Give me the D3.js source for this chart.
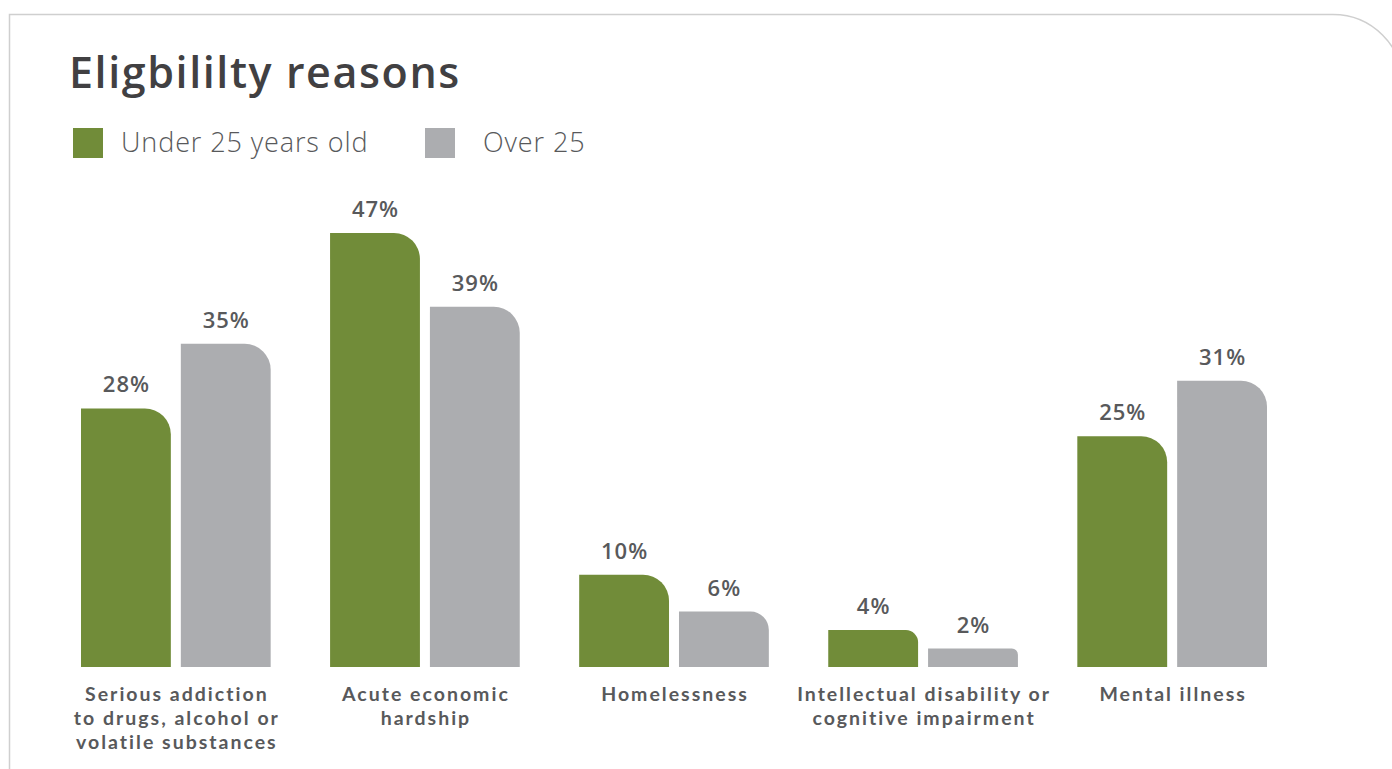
<!DOCTYPE html>
<html>
<head>
<meta charset="utf-8">
<script src="https://cdn.jsdelivr.net/npm/d3@7"></script>
<style>
  html, body { margin: 0; padding: 0; background: #ffffff; }
  svg { display: block; }
</style>
</head>
<body>
<script>
// ---- data ----
const categories = [
  ["Serious addiction", "to drugs, alcohol or", "volatile substances"],
  ["Acute economic", "hardship"],
  ["Homelessness"],
  ["Intellectual disability or", "cognitive impairment"],
  ["Mental illness"]
];
const seriesNames = ["Under 25 years old", "Over 25"];
const under25 = [28, 47, 10, 4, 25];
const over25 = [35, 39, 6, 2, 31];
const title = "Eligbililty reasons";

// ---- layout ----
const W = 1392, H = 769;
const colors = ["#718c39", "#acadb0"];
const textColor = "#58595b";
const font = "'Open Sans', sans-serif";
const labelFont = "Lato, 'Open Sans', sans-serif";

const svg = d3.select("body").append("svg")
  .attr("width", W).attr("height", H);

// frame
const r = 70;
svg.append("path")
  .attr("d", `M9.5,${H + 2} V14.5 H${1333} A${r},${r} 0 0 1 ${1333 + r},${14.5 + r} V${H + 2}`)
  .attr("fill", "none").attr("stroke", "#cfcfcf").attr("stroke-width", 1.5);

// title
svg.append("text")
  .attr("x", 69).attr("y", 88)
  .attr("font-family", font).attr("font-size", 43).attr("font-weight", 600)
  .attr("letter-spacing", 1.6)
  .attr("fill", "#414042")
  .text(title);

// legend
const legendX = [73, 425];
const legendTextX = [121, 483];
seriesNames.forEach((name, i) => {
  svg.append("rect").attr("x", legendX[i]).attr("y", 128)
    .attr("width", 30).attr("height", 30).attr("fill", colors[i]);
  svg.append("text").attr("x", legendTextX[i]).attr("y", 152)
    .attr("font-family", font).attr("font-size", 27).attr("font-weight", 300)
    .attr("letter-spacing", 0.9)
    .attr("fill", textColor).text(name);
});

// scales
const baseY = 667;
const x0 = d3.scaleBand().domain(d3.range(categories.length))
  .range([81, 1267]).paddingInner(0.2385).paddingOuter(0);
const x1 = d3.scaleBand().domain([0, 1])
  .range([0, x0.bandwidth()]).paddingInner(0.1).paddingOuter(0);
const y = d3.scaleLinear().domain([0, 50]).range([baseY, baseY - 50 * 9.234]);

const data = categories.map((c, i) => ({ i, values: [under25[i], over25[i]] }));

function barPath(x, yTop, w, y0) {
  const h = y0 - yTop;
  const rr = Math.min(26, h * 0.33, w / 2);
  return `M${x},${y0} V${yTop} H${x + w - rr} A${rr},${rr} 0 0 1 ${x + w},${yTop + rr} V${y0} Z`;
}

const groups = svg.append("g").selectAll("g").data(data).join("g")
  .attr("transform", d => `translate(${x0(d.i)},0)`);

groups.selectAll("path").data(d => d.values.map((v, k) => ({ v, k })))
  .join("path")
  .attr("d", d => barPath(x1(d.k), y(d.v), x1.bandwidth(), baseY))
  .attr("fill", d => colors[d.k]);

groups.selectAll("text.val").data(d => d.values.map((v, k) => ({ v, k })))
  .join("text").attr("class", "val")
  .attr("x", d => x1(d.k) + x1.bandwidth() / 2 + 0.5)
  .attr("y", d => y(d.v) - 16)
  .attr("text-anchor", "middle")
  .attr("font-family", font).attr("font-size", 22).attr("font-weight", 600)
  .attr("letter-spacing", 1)
  .attr("fill", textColor)
  .text(d => d.v + "%");

// category labels
groups.append("text")
  .attr("text-anchor", "middle")
  .attr("font-family", labelFont).attr("font-size", 19.5).attr("font-weight", 700)
  .attr("letter-spacing", 2)
  .attr("fill", textColor)
  .selectAll("tspan").data(d => categories[d.i]).join("tspan")
  .attr("x", x0.bandwidth() / 2 + 1)
  .attr("y", (d, j) => 701 + j * 24)
  .text(d => d);
</script>
</body>
</html>
